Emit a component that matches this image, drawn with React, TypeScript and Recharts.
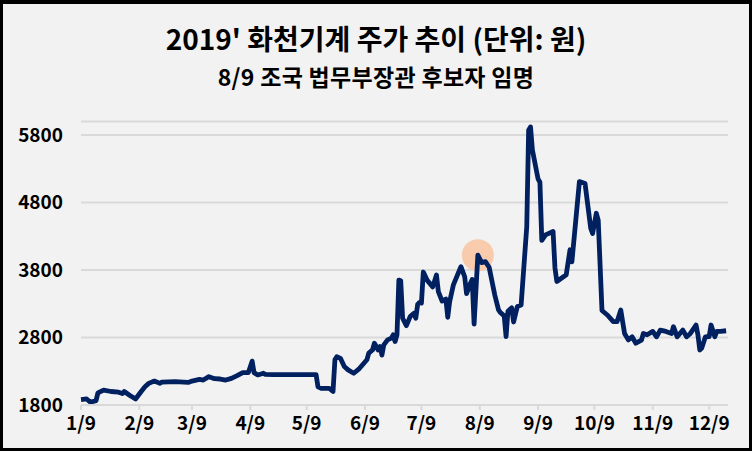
import React from "react";
import { LineChart, Line, XAxis, YAxis, CartesianGrid, ReferenceDot } from "recharts";

const dates = [
  "01-09","01-12","01-14","01-17","01-18","01-21","01-25","01-29","01-31","02-01",
  "02-04","02-07","02-10","02-12","02-14","02-17","02-20","02-21","02-28","03-07",
  "03-09","03-13","03-15","03-18","03-21","03-24","03-27","03-30","04-02","04-05",
  "04-08","04-10","04-11","04-13","04-16","04-17","04-21","05-14","05-15","05-17",
  "05-21","05-23","05-24","05-25","05-27","05-29","05-31","06-03","06-06","06-10",
  "06-11","06-13","06-14","06-16","06-17","06-18","06-19","06-21","06-23","06-24",
  "06-25","06-26","06-27","06-28","06-29","07-01","07-03","07-05","07-06","07-07",
  "07-08","07-09","07-10","07-12","07-15","07-17","07-18","07-20","07-22","07-23",
  "07-24","07-26","07-30","08-01","08-02","08-04","08-05","08-06","08-08","08-10",
  "08-12","08-14","08-17","08-19","08-20","08-22","08-23","08-24","08-26","08-27",
  "08-29","08-31","09-03","09-04","09-05","09-06","09-09","09-10","09-11","09-13",
  "09-17","09-18","09-19","09-24","09-26","09-27","10-01","10-04","10-07","10-08",
  "10-10","10-11","10-13","10-16","10-19","10-21","10-23","10-24","10-25","10-27",
  "10-29","10-31","11-03","11-04","11-06","11-09","11-11","11-13","11-16","11-19",
  "11-20","11-22","11-25","11-27","11-29","12-02","12-03","12-04","12-05","12-07",
  "12-09","12-10","12-12","12-13","12-15","12-18",
];

const prices = [
  1880,1890,1840,1865,1980,2020,2000,1990,1970,2000,
  1940,1890,2000,2070,2120,2155,2120,2140,2145,2135,
  2155,2180,2170,2220,2190,2185,2170,2195,2235,2280,
  2280,2450,2280,2245,2270,2255,2250,2250,2070,2045,
  2045,2000,2470,2515,2490,2370,2320,2270,2340,2470,
  2570,2615,2715,2615,2665,2540,2690,2765,2790,2840,
  2740,2840,3650,3640,3085,2975,3110,3160,3085,3290,
  3320,3310,3770,3650,3550,3725,3480,3340,3370,3100,
  3330,3580,3850,3700,3450,3600,3660,3000,4020,3910,
  3925,3840,3430,3210,3170,3120,2815,3190,3240,3030,
  3260,3280,4440,5870,5920,5580,5150,5100,4240,4320,
  4370,3830,3630,3730,4100,3920,5110,5080,4420,4340,
  4640,4540,3200,3130,3035,3035,3207,3030,2860,2765,
  2810,2715,2760,2860,2840,2890,2810,2910,2890,2860,
  2960,2810,2910,2810,2860,2985,2840,2615,2640,2810,
  2815,2985,2810,2890,2890,2900,
];

const tickDates = ["01-09","02-09","03-09","04-09","05-09","06-09","07-09","08-09","09-09","10-09","11-09","12-09"];
const tickLabels = ["1/9","2/9","3/9","4/9","5/9","6/9","7/9","8/9","9/9","10/9","11/9","12/9"];
const yTicks = [1800, 2800, 3800, 4800, 5800];

const highlightDate = "08-08";
const highlightValue = 4020;

const title = "2019' 화천기계 주가 추이 (단위: 원)";
const subtitle = "8/9 조국 법무부장관 후보자 임명";

const YEAR = 2019;
const base = Date.UTC(YEAR, 0, 9);
function dayOf(md: string): number {
  const [m, d] = md.split("-").map(Number);
  return Math.round((Date.UTC(YEAR, m - 1, d) - base) / 86400000);
}

const data = dates.map((d, i) => ({ day: dayOf(d), price: prices[i] }));
const tickDays = tickDates.map(dayOf);
const labelByDay: Record<number, string> = {};
tickDays.forEach((d, i) => (labelByDay[d] = tickLabels[i]));

const FONT = "'Noto Sans CJK KR', 'Noto Sans', sans-serif";

export default function App() {
  return (
    <div style={{ position: "fixed", left: 0, top: 0, width: 752, height: 451, background: "#000", fontFamily: FONT }}>
      <div style={{ position: "absolute", left: 3, top: 4, right: 3, bottom: 3, background: "#f2f2f2" }} />
      <div style={{ position: "absolute", left: 0, width: 752, top: 23, textAlign: "center", fontSize: 28, fontWeight: 700, color: "#000", lineHeight: "30px" }}>
        {title}
      </div>
      <div style={{ position: "absolute", left: 0, width: 752, top: 63, textAlign: "center", fontSize: 23, fontWeight: 700, color: "#000", lineHeight: "26px", letterSpacing: 0.3 }}>
        {subtitle}
      </div>
      <div style={{ position: "absolute", left: 0, top: 0 }}>
        <LineChart width={752} height={451} data={data} margin={{ top: 121.5, right: 24, bottom: 16, left: 21 }}>
          <CartesianGrid vertical={false} stroke="#d9d9d9" strokeWidth={2} />
          <XAxis
            type="number"
            dataKey="day"
            domain={[0, 344]}
            ticks={tickDays}
            tickFormatter={(v: number) => labelByDay[v] ?? ""}
            height={30}
            axisLine={{ stroke: "#d9d9d9", strokeWidth: 2 }}
            tickLine={{ stroke: "#d9d9d9", strokeWidth: 2 }}
            tickSize={5}
            tickMargin={7}
            tick={{ fill: "#000", fontSize: 19, fontWeight: 700, fontFamily: FONT }}
            interval={0}
            allowDecimals={false}
          />
          <YAxis
            type="number"
            domain={[1800, 6000]}
            ticks={yTicks}
            width={60}
            axisLine={false}
            tickLine={false}
            tickSize={0}
            tickMargin={18}
            tick={{ fill: "#000", fontSize: 19, fontWeight: 700, fontFamily: FONT }}
            interval={0}
          />
          <ReferenceDot x={dayOf(highlightDate)} y={highlightValue} r={16} fill="#f8cbad" stroke="none" zIndex={100} />
          <Line
            type="linear"
            dataKey="price"
            stroke="#002060"
            strokeWidth={4.8}
            dot={false}
            activeDot={false}
            strokeLinejoin="round"
            isAnimationActive={false}
          />
        </LineChart>
      </div>
    </div>
  );
}
